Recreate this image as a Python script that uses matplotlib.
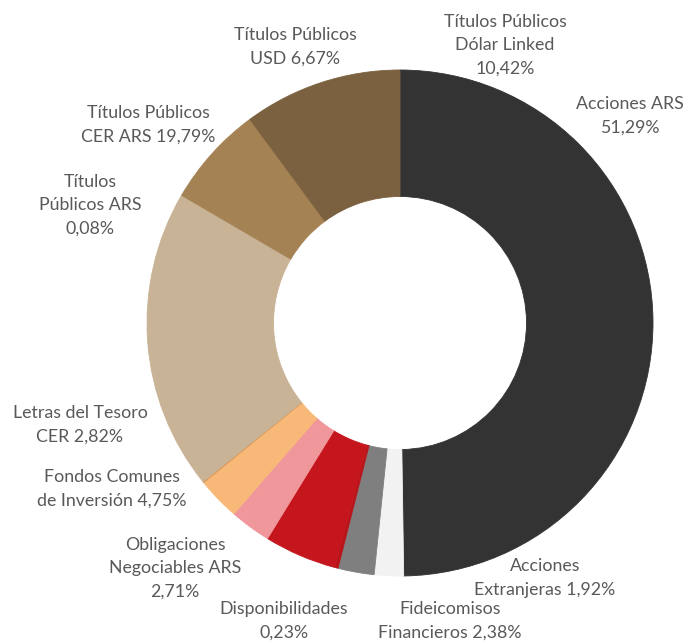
import matplotlib
matplotlib.use("Agg")
import matplotlib.pyplot as plt

# Portfolio composition (% of total), clockwise from 12 o'clock
categories = [
    "Acciones ARS",
    "Acciones Extranjeras",
    "Fideicomisos Financieros",
    "Disponibilidades",
    "Fondos Comunes de Inversión",
    "Obligaciones Negociables ARS",
    "Letras del Tesoro CER",
    "Títulos Públicos ARS",
    "Títulos Públicos CER ARS",
    "Títulos Públicos USD",
    "Títulos Públicos Dólar Linked",
]
values = [51.29, 1.92, 2.38, 0.23, 4.75, 2.71, 2.82, 0.08, 19.79, 6.67, 10.42]
colors = [
    "#333333", "#f2f2f2", "#7f7f7f", "#b8151b", "#c5161d", "#f0979c",
    "#f8b878", "#d99a5c", "#c9b396", "#a58253", "#7b613f",
]

# Label text (as printed) and where each one sits, in pixels
label_texts = [
    "Títulos Públicos\nDólar Linked\n10,42%",
    "Acciones ARS\n51,29%",
    "Títulos Públicos\nUSD 6,67%",
    "Títulos Públicos\nCER ARS 19,79%",
    "Títulos\nPúblicos ARS\n0,08%",
    "Letras del Tesoro\nCER 2,82%",
    "Fondos Comunes\nde Inversión 4,75%",
    "Obligaciones\nNegociables ARS\n2,71%",
    "Disponibilidades\n0,23%",
    "Fideicomisos\nFinancieros 2,38%",
    "Acciones\nExtranjeras 1,92%",
]
label_px = [
    (505, 45), (630, 116), (295, 47), (148, 125), (90, 205), (80, 425),
    (112, 489), (175, 568), (284, 621), (450, 621), (545, 578),
]

W, H, DPI = 689, 644, 100
CX, CY, R = 400, 323, 253  # donut centre and outer radius in pixels

plt.rcParams["font.family"] = ["Lato", "DejaVu Sans"]
fig = plt.figure(figsize=(W / DPI, H / DPI), dpi=DPI)
ax = fig.add_axes([0, 0, 1, 1])

wedges, _ = ax.pie(
    values,
    colors=colors,
    startangle=90,
    counterclock=False,
    radius=1.0,
    wedgeprops=dict(width=0.5, linewidth=0.6),
)
for w in wedges:
    w.set_edgecolor(w.get_facecolor())

ax.set_xlim((0 - CX) / R, (W - CX) / R)
ax.set_ylim((CY - H) / R, (CY - 0) / R)
ax.axis("off")

for txt, (px, py) in zip(label_texts, label_px):
    ax.text((px - CX) / R, (CY - py) / R, txt, ha="center", va="center",
            fontsize=12.8, color="#595959", linespacing=1.55)

fig.savefig("out.png", dpi=DPI)
